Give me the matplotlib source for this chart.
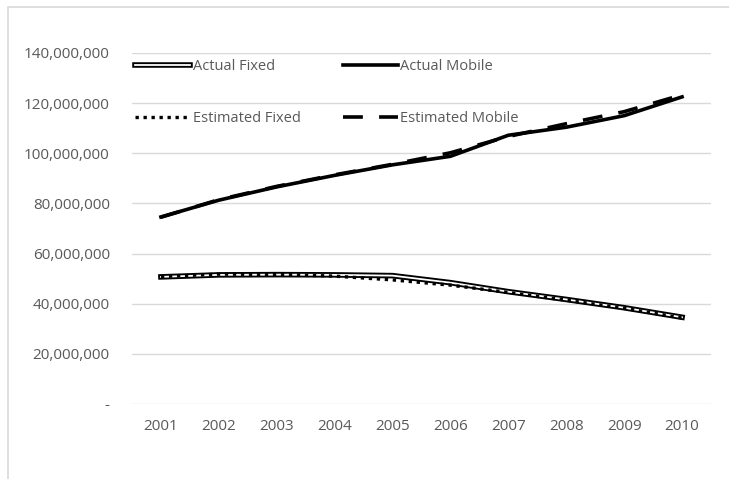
import numpy as np
import matplotlib
matplotlib.use('Agg')
import matplotlib.pyplot as plt
import matplotlib.patheffects as pe
from matplotlib.ticker import FuncFormatter

years = ['2001', '2002', '2003', '2004', '2005', '2006', '2007', '2008', '2009', '2010']
actual_fixed = [50.7, 51.5, 51.6, 51.5, 51.2, 48.4, 44.8, 41.7, 38.4, 34.6]
actual_mobile = [74.6, 81.3, 86.6, 91.2, 95.4, 98.8, 107.2, 110.4, 115.0, 122.5]
est_fixed = [50.8, 51.8, 51.7, 51.0, 49.5, 47.4, 44.5, 41.4, 38.2, 34.3]
est_mobile = [74.5, 81.5, 86.8, 91.4, 95.6, 100.2, 106.7, 111.8, 116.6, 123.3]

grey = '#595959'
plt.rcParams['font.family'] = ['Open Sans', 'DejaVu Sans']

fig = plt.figure(figsize=(7.29, 4.79), dpi=100)
# chart frame (cropped on right and bottom)
fig.patches.append(plt.Rectangle((8/729., -0.1), 1.2, 1 - 7/479. + 0.1, transform=fig.transFigure,
                                 fill=False, edgecolor='#d9d9d9', lw=1.2))
ax = fig.add_axes([132/729., 1 - 404/479., (711 - 132)/729., (404 - 53)/479.])

x = np.arange(len(years))
s = 1e6
af, = ax.plot(x, np.array(actual_fixed)*s, color='white', lw=1.3, solid_joinstyle='round',
              path_effects=[pe.Stroke(linewidth=4.0, foreground='black'), pe.Normal()],
              label='Actual Fixed')
am, = ax.plot(x, np.array(actual_mobile)*s, color='black', lw=2.6, label='Actual Mobile')
ef, = ax.plot(x, np.array(est_fixed)*s, color='black', lw=2.4, dashes=(1, 1.4), label='Estimated Fixed')
em, = ax.plot(x, np.array(est_mobile)*s, color='black', lw=2.6, dashes=(5.5, 4.5), label='Estimated Mobile')

ax.set_xlim(-0.5, 9.5)
ax.set_ylim(0, 140e6)
ax.set_yticks(np.arange(0, 140e6 + 1, 20e6))
ax.set_xticks(x)
ax.set_xticklabels(years)
ax.yaxis.set_major_formatter(FuncFormatter(lambda v, p: '-' if v == 0 else '{:,.0f}'.format(v)))
ax.grid(axis='y', color='#d9d9d9', lw=1)
ax.set_axisbelow(True)
for sp in ax.spines.values():
    sp.set_visible(False)
ax.tick_params(length=0, colors=grey, labelsize=11)
ax.tick_params(axis='y', pad=16)
ax.tick_params(axis='x', pad=11)

leg = ax.legend(handles=[af, ef, am, em], ncol=2, frameon=False, loc='upper left',
                bbox_to_anchor=(-0.005, 1.0), fontsize=10.5, handlelength=3.8,
                handletextpad=0.15, columnspacing=2.9, labelspacing=2.55, borderaxespad=0)
for t in leg.get_texts():
    t.set_color(grey)

plt.savefig('out.png', dpi=100)
